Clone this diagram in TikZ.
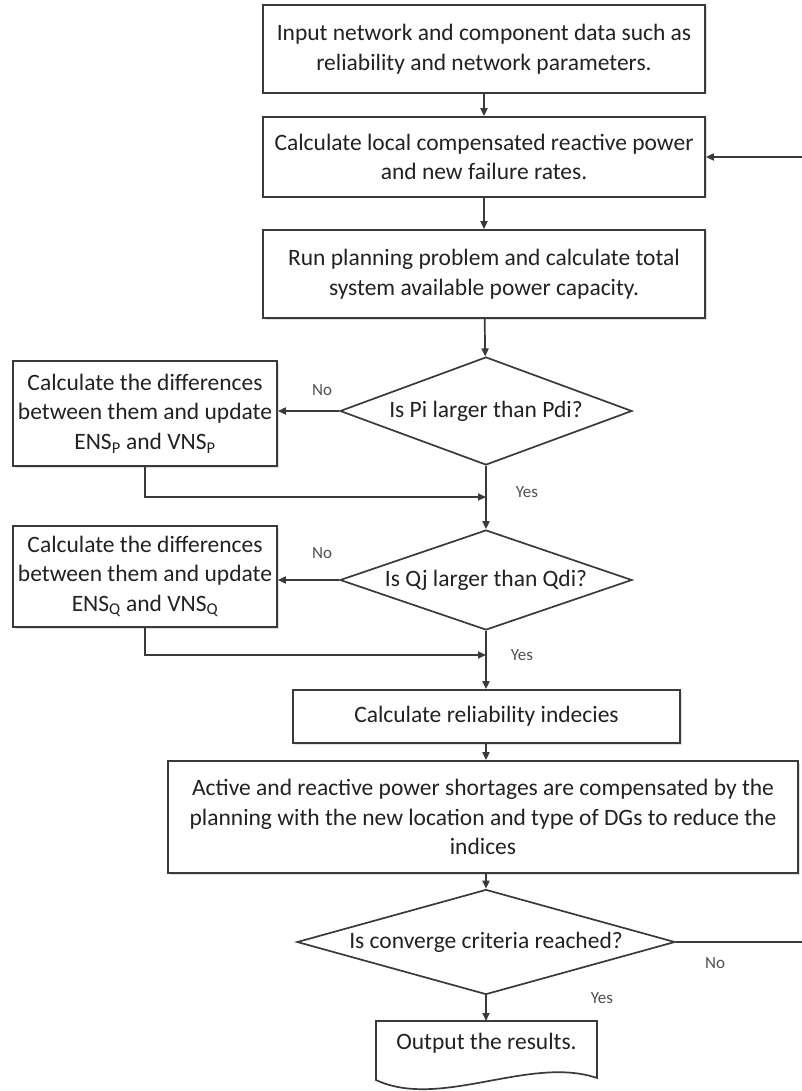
\documentclass[tikz,border=0pt]{standalone}
\usepackage{fontspec}
\setmainfont{Carlito}
\usetikzlibrary{shapes.geometric,arrows.meta,shadows,calc}
\definecolor{linec}{HTML}{3A3A3A}
\definecolor{txtc}{HTML}{222222}
\definecolor{lblc}{HTML}{505050}
\newcommand{\mainfs}{\fontsize{23.5}{29.5}\selectfont}
\newcommand{\lblfs}{\fontsize{17}{20}\selectfont}
\tikzset{
  box/.style={draw=linec, line width=1.7pt, fill=white, align=center, font=\mainfs,
    text=txtc, inner sep=0pt, drop shadow={shadow xshift=1.5pt, shadow yshift=-1.5pt, opacity=0.25}},
  dec/.style={diamond, draw=linec, line width=1.7pt, fill=white, align=center, font=\mainfs,
    text=txtc, inner sep=0pt},
  conn/.style={draw=linec, line width=1.7pt},
  arr/.style={conn, -{Triangle[length=8pt,width=7pt]}},
  lbl/.style={font=\lblfs, text=lblc}
}
\begin{document}
\begin{tikzpicture}[x=1pt,y=-1pt]
\useasboundingbox (0,0) rectangle (801,1091);
\fill[white] (0,0) rectangle (801,1091);

\node[box, minimum width=442pt, minimum height=88pt] (b1) at (484,49)
  {Input network and component data such as\\reliability and network parameters.};
\node[box, minimum width=442pt, minimum height=80pt] (b2) at (484,157)
  {Calculate local compensated reactive power\\and new failure rates.};
\node[box, minimum width=442pt, minimum height=88pt] (b3) at (484,274)
  {Run planning problem and calculate total\\system available power capacity.};
\node[dec, aspect=2.7, minimum width=292pt, minimum height=108pt] (d1) at (486,411)
  {Is Pi larger than Pdi?};
\node[box, minimum width=264pt, minimum height=105pt] (bp) at (145,413.5)
  {Calculate the differences\\between them and update\\ENS\textsubscript{P} and VNS\textsubscript{P}};
\node[dec, aspect=2.9, minimum width=292pt, minimum height=100pt] (d2) at (486,580)
  {Is Qj larger than Qdi?};
\node[box, minimum width=264pt, minimum height=101pt] (bq) at (145,576.5)
  {Calculate the differences\\between them and update\\ENS\textsubscript{Q} and VNS\textsubscript{Q}};
\node[box, minimum width=387pt, minimum height=53pt] (br) at (486.5,716.5)
  {Calculate reliability indecies};
\node[box, minimum width=630pt, minimum height=112pt] (bs) at (483,817)
  {Active and reactive power shortages are compensated by the\\planning with the new location and type of DGs to reduce the\\indices};
\node[dec, aspect=3.6, minimum width=378pt, minimum height=105pt] (d3) at (486,942)
  {Is converge criteria reached?};
\coordinate (oc) at (486.5,1043);
\draw[conn, fill=white] ($(oc)+(-110.5,-22)$) -- ($(oc)+(110.5,-22)$) -- ($(oc)+(110.5,35)$)
  .. controls ($(oc)+(43.5,12)$) and ($(oc)+(-46.5,67)$) .. ($(oc)+(-110.5,37)$) -- cycle;
\node[inner sep=0pt, font=\mainfs, text=txtc] (out) at (oc) {Output the results.};
\coordinate (outtop) at ($(oc)+(0,-22)$);

\coordinate (j1) at (486,497);
\coordinate (j2) at (486,655);

\draw[arr] (b1) -- (b2);
\draw[arr] (b2) -- (b3);
\draw[arr] (b3) -- (d1);
\draw[arr] (d1.west) -- (bp.east |- d1.west);
\draw[arr] (bp.south) |- (j1);
\draw[arr] (d1.south) -- (d2.north);
\draw[arr] (d2.west) -- (bq.east |- d2.west);
\draw[arr] (bq.south) |- (j2);
\draw[arr] (d2.south) -- (br.north -| d2.south);
\draw[arr] (br.south -| d2.south) -- (bs.north -| d2.south);
\draw[arr] (bs.south -| d3.north) -- (d3.north);
\draw[arr] (d3.south) -- (outtop -| d3.south);
\draw[arr] (d3.east) -- (804,942) |- (b2.east);

\node[lbl] (l1) at (322,390) {No};
\node[lbl] (l2) at (527,492) {Yes};
\node[lbl] (l3) at (322,553) {No};
\node[lbl] (l4) at (522,655) {Yes};
\node[lbl] (l5) at (715,963) {No};
\node[lbl] (l6) at (602,998) {Yes};
\end{tikzpicture}
\end{document}
